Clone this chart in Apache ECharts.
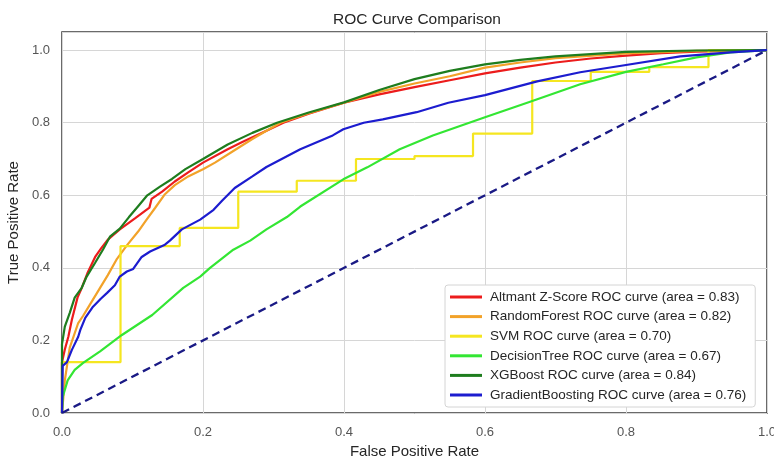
<!DOCTYPE html>
<html>
<head>
<meta charset="utf-8">
<script src="https://cdn.jsdelivr.net/npm/echarts@6/dist/echarts.min.js"></script>
<style>
  html, body { margin: 0; padding: 0; background: #fff; }
  #roc-chart { width: 774px; height: 457px; }
</style>
</head>
<body>
<div id="roc-chart"></div>
<script>
// ROC points, [fpr, tpr]
let altmanRoc = [[0, 0], [0, 0.14], [0.004, 0.175], [0.009, 0.21], [0.014, 0.257], [0.022, 0.318],
  [0.027, 0.34], [0.036, 0.385], [0.047, 0.43], [0.056, 0.455], [0.065, 0.478], [0.082, 0.506],
  [0.104, 0.537], [0.124, 0.566], [0.127, 0.59], [0.142, 0.61], [0.16, 0.638], [0.179, 0.663],
  [0.2, 0.69], [0.235, 0.727], [0.255, 0.746], [0.29, 0.778], [0.314, 0.8], [0.35, 0.825],
  [0.4, 0.855], [0.45, 0.878], [0.5, 0.898], [0.55, 0.917], [0.6, 0.936], [0.65, 0.952],
  [0.7, 0.966], [0.75, 0.977], [0.8, 0.985], [0.85, 0.992], [0.9, 0.996], [1, 1]]

let randomForestRoc = [[0, 0], [0.004, 0.09], [0.011, 0.18], [0.023, 0.248], [0.03, 0.268], [0.04, 0.3],
  [0.054, 0.345], [0.065, 0.38], [0.078, 0.425], [0.092, 0.462], [0.108, 0.5], [0.12, 0.533],
  [0.132, 0.565], [0.146, 0.603], [0.16, 0.628], [0.179, 0.652], [0.2, 0.672], [0.217, 0.69],
  [0.243, 0.722], [0.27, 0.755], [0.29, 0.778], [0.31, 0.8], [0.35, 0.826], [0.4, 0.855],
  [0.45, 0.885], [0.5, 0.908], [0.55, 0.928], [0.6, 0.952], [0.65, 0.966], [0.7, 0.978],
  [0.8, 0.991], [0.9, 0.998], [1, 1]]

let svmRoc = [[0, 0], [0, 0.14], [0.083, 0.14], [0.083, 0.46], [0.167, 0.46], [0.167, 0.51],
  [0.25, 0.51], [0.25, 0.61], [0.333, 0.61], [0.333, 0.64], [0.417, 0.64], [0.417, 0.70],
  [0.5, 0.70], [0.5, 0.708], [0.583, 0.708], [0.583, 0.77], [0.667, 0.77], [0.667, 0.915],
  [0.75, 0.915], [0.75, 0.94], [0.833, 0.94], [0.833, 0.953], [0.917, 0.953], [0.917, 1], [1, 1]]

let decisionTreeRoc = [[0, 0], [0.001, 0.044], [0.008, 0.09], [0.018, 0.119], [0.03, 0.138],
  [0.054, 0.17], [0.085, 0.215], [0.128, 0.27], [0.172, 0.345], [0.196, 0.376], [0.21, 0.4],
  [0.243, 0.45], [0.267, 0.475], [0.29, 0.506], [0.319, 0.54], [0.338, 0.569], [0.399, 0.644],
  [0.433, 0.677], [0.479, 0.727], [0.526, 0.765], [0.6, 0.815], [0.664, 0.858], [0.735, 0.906],
  [0.8, 0.94], [0.853, 0.961], [0.9, 0.98], [0.948, 0.994], [1, 1]]

let xgboostRoc = [[0, 0], [0, 0.19], [0.004, 0.238], [0.011, 0.276], [0.018, 0.318], [0.028, 0.345],
  [0.035, 0.376], [0.047, 0.414], [0.058, 0.45], [0.068, 0.486], [0.082, 0.508], [0.095, 0.54],
  [0.108, 0.57], [0.121, 0.6], [0.139, 0.624], [0.156, 0.645], [0.175, 0.672], [0.2, 0.7],
  [0.235, 0.74], [0.27, 0.772], [0.305, 0.8], [0.35, 0.828], [0.4, 0.856], [0.45, 0.89],
  [0.5, 0.92], [0.55, 0.943], [0.6, 0.961], [0.65, 0.973], [0.7, 0.983], [0.8, 0.995],
  [0.9, 0.999], [1, 1]]

let gradientBoostingRoc = [[0, 0], [0.001, 0.13], [0.007, 0.14], [0.014, 0.174], [0.023, 0.21],
  [0.026, 0.229], [0.033, 0.262], [0.044, 0.293], [0.055, 0.315], [0.064, 0.331], [0.075, 0.352],
  [0.082, 0.376], [0.092, 0.39], [0.101, 0.397], [0.113, 0.43], [0.125, 0.445], [0.146, 0.464],
  [0.153, 0.475], [0.17, 0.506], [0.196, 0.533], [0.215, 0.56], [0.227, 0.585], [0.245, 0.62],
  [0.27, 0.652], [0.29, 0.678], [0.338, 0.727], [0.384, 0.765], [0.399, 0.782], [0.428, 0.8],
  [0.455, 0.809], [0.503, 0.829], [0.548, 0.855], [0.6, 0.876], [0.674, 0.914], [0.735, 0.939],
  [0.8, 0.959], [0.877, 0.983], [0.948, 0.994], [1, 1]]

let chanceLine = [[0, 0], [1, 1]]

let modelNames = ['Altmant Z-Score', 'RandomForest', 'SVM', 'DecisionTree', 'XGBoost', 'GradientBoosting']
let modelAuc = [0.83, 0.82, 0.70, 0.67, 0.84, 0.76]
let modelColors = ['#ec1c1c', '#f2a229', '#f5e620', '#33e633', '#1e7d1e', '#1c1ccf']
let modelRoc = [altmanRoc, randomForestRoc, svmRoc, decisionTreeRoc, xgboostRoc, gradientBoostingRoc]

let axisTicks = [0, 0.2, 0.4, 0.6, 0.8, 1.0]

let labels = modelNames.map((name, i) => name + ' ROC curve (area = ' + modelAuc[i].toFixed(2) + ')')

let series = modelRoc.map((data, i) => ({
  name: labels[i],
  type: 'line',
  data: data,
  showSymbol: false,
  smooth: false,
  color: modelColors[i],
  lineStyle: {width: 2.2, color: modelColors[i]},
  z: 2 + i
}))

series.push({
  name: 'chance',
  type: 'line',
  data: chanceLine,
  showSymbol: false,
  lineStyle: {width: 2.3, color: '#1a1a85', type: [8, 5]},
  z: 10
})

let fontFamily = '"Liberation Sans", Arial, sans-serif'

let myChart = echarts.init(document.getElementById('roc-chart'))
let option = {
  animation: false,
  textStyle: {fontFamily: fontFamily},
  title: {
    text: 'ROC Curve Comparison',
    left: 333,
    top: 12,
    padding: 0,
    textStyle: {fontSize: 15.5, fontWeight: 'normal', color: '#262626', fontFamily: fontFamily}
  },
  grid: {
    left: 62,
    right: 7,
    top: 32,
    bottom: 44,
    containLabel: false,
    outerBoundsMode: 'none',
    show: true,
    borderColor: '#3a3a3a',
    borderWidth: 1.5,
    backgroundColor: 'transparent'
  },
  legend: {
    data: labels,
    orient: 'vertical',
    left: 445,
    top: 285,
    icon: 'rect',
    itemWidth: 32,
    itemHeight: 3,
    itemGap: 5.6,
    padding: [5, 9, 5, 5],
    backgroundColor: '#fff',
    borderColor: '#d4d4d4',
    borderWidth: 1,
    borderRadius: 3,
    textStyle: {fontSize: 13.5, lineHeight: 14, color: '#262626', fontFamily: fontFamily, padding: [0, 0, 0, 3]}
  },
  xAxis: {
    type: 'value',
    min: 0,
    max: 1,
    interval: 0.2,
    name: 'False Positive Rate',
    nameLocation: 'middle',
    nameGap: 29,
    nameTextStyle: {fontSize: 15, color: '#262626'},
    axisLine: {show: false},
    axisTick: {show: false},
    axisLabel: {
      fontSize: 13,
      color: '#555',
      margin: 13,
      formatter: v => (axisTicks.includes(+v.toFixed(1)) ? v.toFixed(1) : '')
    },
    splitLine: {show: true, lineStyle: {color: '#d6d6d6', width: 1}}
  },
  yAxis: {
    type: 'value',
    min: 0,
    max: 1.05,
    interval: 0.2,
    name: 'True Positive Rate',
    nameLocation: 'middle',
    nameGap: 35,
    nameRotate: 90,
    nameTextStyle: {fontSize: 15, color: '#262626'},
    axisLine: {show: false},
    axisTick: {show: false},
    axisLabel: {
      fontSize: 13,
      color: '#555',
      margin: 12,
      showMaxLabel: false,
      formatter: v => (axisTicks.includes(+v.toFixed(2)) ? v.toFixed(1) : '')
    },
    splitLine: {show: true, lineStyle: {color: '#d6d6d6', width: 1}}
  },
  series: series
}
myChart.setOption(option)
</script>
</body>
</html>
